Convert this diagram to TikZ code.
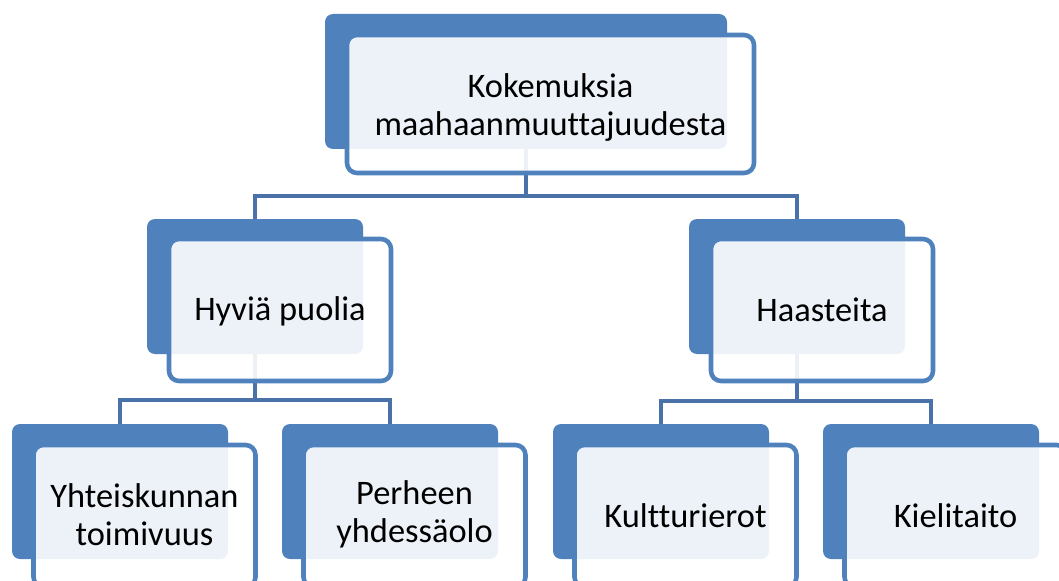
\documentclass[tikz,border=0pt]{standalone}
\usepackage{fontspec}
\setmainfont{Carlito}[Ligatures=NoCommon]
\definecolor{smblue}{HTML}{4F81BD}
\definecolor{lnblue}{HTML}{4A72A8}
\begin{document}
\begin{tikzpicture}[x=0.75pt,y=-0.75pt,
  backbox/.style={fill=smblue, rounded corners=6pt, inner sep=0pt, outer sep=0pt, minimum height=101.25pt},
  frontbox/.style={fill=white, fill opacity=0.9, draw=smblue, line width=3.4pt, rounded corners=7.5pt, inner sep=0pt, outer sep=0pt},
  conn/.style={draw=lnblue, line width=3.2pt},
  lbl/.style={font=\fontsize{25.8}{28.5}\selectfont, align=center, text=black, inner sep=0pt}]
\useasboundingbox (0,0) rectangle (1059,581);
\clip (0,0) rectangle (1059,581);
% back boxes
\node[backbox, minimum width=301.5pt] (b0) at (526,81.5) {};
\node[backbox, minimum width=162pt] (b1) at (255,286.5) {};
\node[backbox, minimum width=162pt] (b2) at (797,286.5) {};
\node[backbox, minimum width=162pt] (b11) at (120,491.5) {};
\node[backbox, minimum width=162pt] (b12) at (390,491.5) {};
\node[backbox, minimum width=162pt] (b21) at (661,491.5) {};
\node[backbox, minimum width=162pt] (b22) at (931,491.5) {};
% connectors
\coordinate (j0) at (526,196);
\coordinate (j1) at (255,400);
\coordinate (j2) at (797,401);
\draw[conn] (b0.south) -- (j0) -| (b1.north);
\draw[conn] (j0) -| (b2.north);
\draw[conn] (b1.south) -- (j1) -| (b11.north);
\draw[conn] (j1) -| (b12.north);
\draw[conn] (b2.south) -- (j2) -| (b21.north);
\draw[conn] (j2) -| (b22.north);
% front boxes
\node[frontbox, minimum width=305.25pt, minimum height=103.5pt] (f0) at (550.5,104) {};
\node[frontbox, minimum width=166.5pt, minimum height=106.5pt] (f1) at (280,310) {};
\node[frontbox, minimum width=166.5pt, minimum height=106.5pt] (f2) at (822,310) {};
\node[frontbox, minimum width=166.5pt, minimum height=106.5pt] (f11) at (144.5,516) {};
\node[frontbox, minimum width=166.5pt, minimum height=106.5pt] (f12) at (414.5,516) {};
\node[frontbox, minimum width=166.5pt, minimum height=106.5pt] (f21) at (685.5,516) {};
\node[frontbox, minimum width=166.5pt, minimum height=106.5pt] (f22) at (955.5,516) {};
% labels
\node[lbl] (t0) at ([yshift=-3pt]f0.center) {Kokemuksia\\maahaanmuuttajuudesta};
\node[lbl] (t1) at ([yshift=-1pt]f1.center) {Hyviä puolia};
\node[lbl] (t2) at (f2.center) {Haasteita};
\node[lbl] (t11) at ([yshift=1pt]f11.center) {Yhteiskunnan\\toimivuus};
\node[lbl] (t12) at ([yshift=1pt]f12.center) {Perheen\\yhdessäolo};
\node[lbl] (t21) at (f21.center) {Kultturierot};
\node[lbl] (t22) at (f22.center) {Kielitaito};
\end{tikzpicture}
\end{document}
